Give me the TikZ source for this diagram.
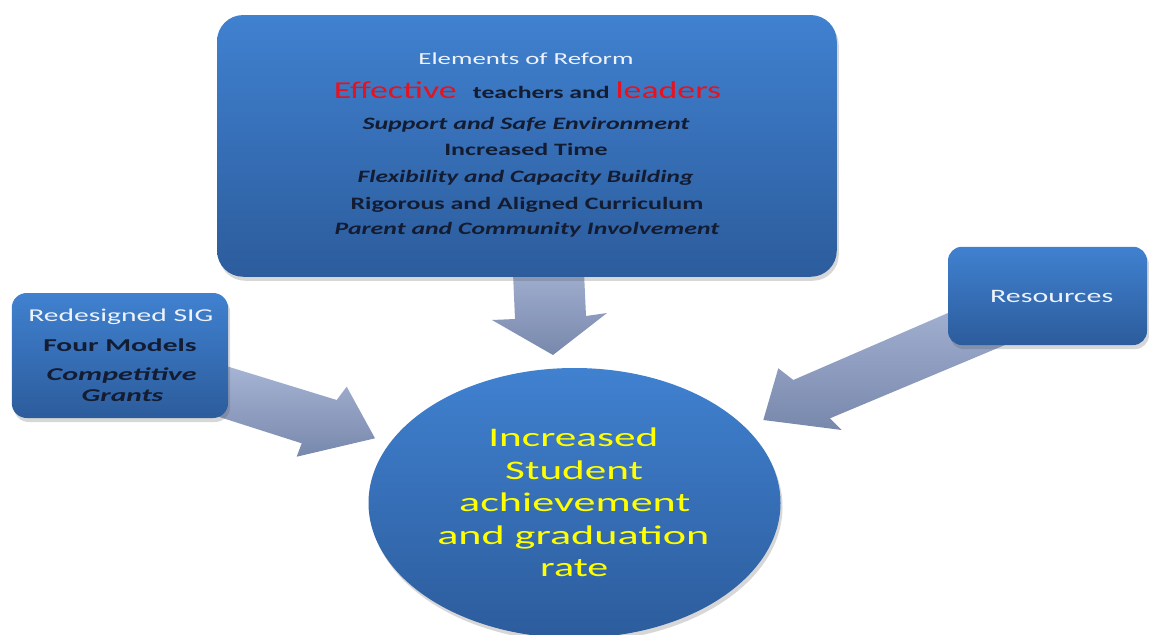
\documentclass[tikz,border=0pt]{standalone}
\usepackage{fontspec}
\setmainfont{Carlito}
\usepackage{graphicx}
\usetikzlibrary{shapes.geometric,shadows}
\newlength\px
\setlength\px{0.02cm}
\definecolor{boxtop}{RGB}{64,129,208}
\definecolor{boxbot}{RGB}{44,92,156}
\definecolor{arrtop}{RGB}{170,184,216}
\definecolor{arrbot}{RGB}{120,136,172}
\definecolor{inktext}{RGB}{20,28,50}
\definecolor{redtext}{RGB}{232,18,30}
\definecolor{yeltext}{RGB}{255,255,0}
\definecolor{whitetext}{RGB}{238,243,250}
\newcommand\fitline[3]{\resizebox{#1\px}{\height}{\fontsize{#2}{#2}\selectfont #3}}
\tikzset{
  panel/.style={rectangle, rounded corners=#1, top color=boxtop, bottom color=boxbot,
    draw=none, inner sep=0pt,
    drop shadow={shadow xshift=2\px, shadow yshift=-4\px, opacity=0.22, fill=black!70}},
  panel/.default=14\px,
  txt/.style={inner sep=0pt, anchor=base},
  blockarrow/.style={top color=arrtop, bottom color=arrbot, draw=none},
}
\begin{document}
\begin{tikzpicture}[x=0.02cm, y=-0.02cm]
\useasboundingbox (0,0) rectangle (1149,635);
\clip (0,0) rectangle (1149,635);
\fill[white] (0,0) rectangle (1149,635);

% block arrows (behind the panels)
\path[blockarrow] (512,250) -- (583,250) -- (586,316) -- (607,313) -- (553,355) -- (492,320) -- (515,319) -- cycle;
\path[blockarrow] (200,358) -- (336.7,400) -- (346.7,386.7) -- (375,438.3) -- (296.7,456.7) -- (301.7,443.3) -- (200,410.8) -- cycle;
\path[blockarrow] (1020,281.8) -- (793.3,380) -- (778.3,368.3) -- (763.3,420) -- (841.7,430) -- (830,418.3) -- (1020,338.7) -- cycle;

% panels
\node[panel=26\px, minimum width=619.7\px, minimum height=261.7\px] (reform) at (526.9,145.9) {};
\node[panel=15\px, minimum width=216.3\px, minimum height=125\px] (sig) at (119.9,355.5) {};
\node[panel=14\px, minimum width=199\px, minimum height=98.3\px] (res) at (1047.5,295.9) {};
\node[ellipse, top color=boxtop, bottom color=boxbot, draw=none, inner sep=0pt,
      minimum width=412\px, minimum height=270\px,
      drop shadow={shadow xshift=2\px, shadow yshift=-4\px, opacity=0.22, fill=black!70}] (goal) at (574.5,503) {};

% reform texts
\node[txt, text=whitetext] (r1) at (526,65) {\fitline{215}{9.6pt}{Elements of Reform}};
\node[txt] (r2) at (527.5,98.3) {\resizebox{387.4\px}{\height}{\fontsize{13.8pt}{14pt}\selectfont\color{redtext}Effective\ \ {\fontsize{9.9pt}{10pt}\selectfont\bfseries\color{inktext}teachers and }\color{redtext}leaders}};
\node[txt, text=inktext] (r3) at (526,129.3) {\fitline{327}{9.9pt}{\bfseries\itshape Support and Safe Environment}};
\node[txt, text=inktext] (r4) at (526,155.7) {\fitline{163.4}{9.9pt}{\bfseries Increased Time}};
\node[txt, text=inktext] (r5) at (525.5,182.7) {\fitline{335.6}{9.9pt}{\bfseries\itshape Flexibility and Capacity Building}};
\node[txt, text=inktext] (r6) at (527,209) {\fitline{352.7}{9.9pt}{\bfseries Rigorous and Aligned Curriculum}};
\node[txt, text=inktext] (r7) at (527,235) {\fitline{384.6}{9.9pt}{\bfseries\itshape Parent and Community Involvement}};

% SIG texts
\node[txt, text=whitetext] (s1) at (120.8,321.7) {\fitline{185}{10.3pt}{Redesigned SIG}};
\node[txt, text=inktext] (s2) at (120,351.7) {\fitline{153.4}{10.3pt}{\bfseries Four Models}};
\node[txt, text=inktext] (s3) at (121.7,380) {\fitline{150}{10.3pt}{\bfseries\itshape Competitive}};
\node[txt, text=inktext] (s4) at (122.5,401.7) {\fitline{81.6}{10.3pt}{\bfseries\itshape Grants}};

% resources text
\node[txt, text=whitetext] (rs) at (1051.7,302.3) {\fitline{123}{10.8pt}{Resources}};

% goal texts
\node[txt, text=yeltext] (g1) at (573.3,446.7) {\fitline{170}{15.3pt}{Increased}};
\node[txt, text=yeltext] (g2) at (574.2,479) {\fitline{138}{15.3pt}{Student}};
\node[txt, text=yeltext] (g3) at (574.7,511.7) {\fitline{231}{15.3pt}{achievement}};
\node[txt, text=yeltext] (g4) at (573.3,544) {\fitline{272}{15.3pt}{and graduation}};
\node[txt, text=yeltext] (g5) at (574.2,576) {\fitline{68}{15.3pt}{rate}};
\end{tikzpicture}
\end{document}
